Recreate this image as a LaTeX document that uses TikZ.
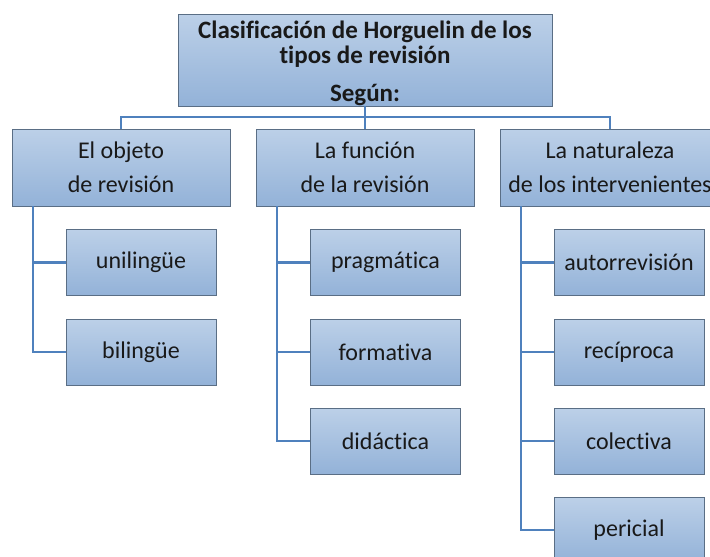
\documentclass[tikz,border=0pt]{standalone}
\usepackage{fontspec}
\setmainfont{Carlito}[Ligatures=CommonOff]
\usetikzlibrary{calc}
\definecolor{boxtop}{HTML}{BCD0E8}
\definecolor{boxbot}{HTML}{93B2D8}
\definecolor{boxline}{HTML}{5A6E85}
\definecolor{linkblue}{HTML}{4F81BD}
\tikzset{rootbox/.style={draw=boxline,thick,top color=boxtop,bottom color=boxbot,
    minimum width=374pt,minimum height=92pt,inner sep=0pt,align=center,
    font=\fontsize{25}{25}\selectfont\bfseries,text=black!90}}
\tikzset{catbox/.style={draw=boxline,thick,top color=boxtop,bottom color=boxbot,
    minimum width=#1,minimum height=77pt,inner sep=0pt,align=center,
    font=\fontsize{24}{34}\selectfont,text=black!90},catbox/.default=218pt}
\tikzset{leafbox/.style={draw=boxline,thick,top color=boxtop,bottom color=boxbot,
    minimum width=150pt,minimum height=66pt,inner sep=0pt,
    font=\fontsize{24}{24}\selectfont,text=black!90}}
\tikzset{link/.style={draw=linkblue,line width=2.2pt}}

\begin{document}
\begin{tikzpicture}[x=1pt,y=-1pt]
	\path[use as bounding box,clip] (0,0) rectangle (710,557);
	\fill[white] (0,0) rectangle (710,557);

	\node [rootbox] (root) at (365,60) {};
	\node [font=\fontsize{25}{25}\selectfont\bfseries,text=black!90,align=center,inner sep=0pt]
		(titulo) at (365,63) {Clasificación de Horguelin de los\\tipos de revisión\\[13pt]Según:};

	\node [catbox] (objeto) at (121,167.5) {El objeto\\de revisión};
	\node [catbox] (funcion) at (365,167.5) {La función\\de la revisión};
	\node [catbox=220pt] (naturaleza) at (610,167.5) {La naturaleza\\de los intervenientes};

	\coordinate (bus) at (365,117);
	\draw [link] (root.south) -- (bus);
	\draw [link] (objeto.north) |- (bus) -| (naturaleza.north);
	\draw [link] (funcion.north) -- (funcion.north |- bus);

	% hojas
	\node [leafbox] (unilingue) at (141,262.5) {unilingüe};
	\node [leafbox] (bilingue) at (141,352) {bilingüe};

	\node [leafbox] (pragmatica) at (385.5,262.5) {pragmática};
	\node [leafbox] (formativa) at (385.5,352) {formativa};
	\node [leafbox] (didactica) at (385.5,441) {didáctica};

	\node [leafbox] (autorrevision) at (629,262.5) {autorrevisión};
	\node [leafbox] (reciproca) at (629,352) {recíproca};
	\node [leafbox] (colectiva) at (629,441) {colectiva};
	\node [leafbox] (pericial) at (629,530) {pericial};

	\foreach \leaf in {unilingue,bilingue}
		\draw [link] ($(objeto.south west)+(21,0)$) |- (\leaf.west);
	\foreach \leaf in {pragmatica,formativa,didactica}
		\draw [link] ($(funcion.south west)+(21,0)$) |- (\leaf.west);
	\foreach \leaf in {autorrevision,reciproca,colectiva,pericial}
		\draw [link] ($(naturaleza.south west)+(21,0)$) |- (\leaf.west);
\end{tikzpicture}
\end{document}
